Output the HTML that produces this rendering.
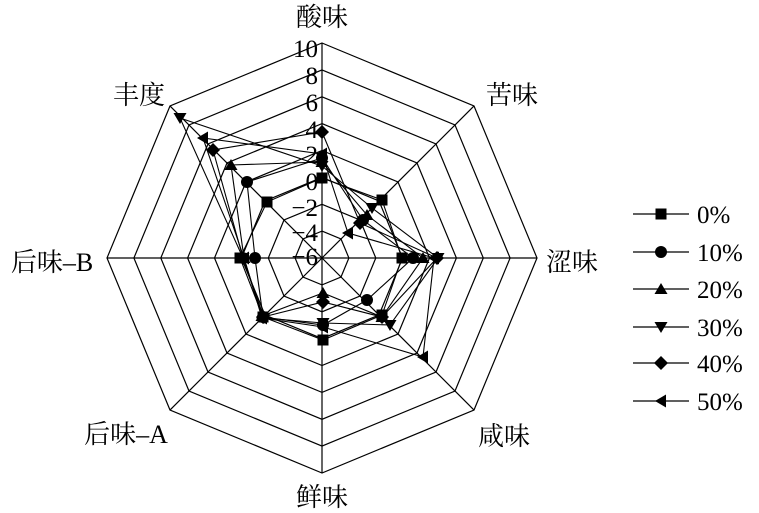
<!DOCTYPE html>
<html><head><meta charset="utf-8"><style>
html,body{margin:0;padding:0;background:#fff;}
svg{display:block;font-family:"Liberation Serif","Noto Serif CJK SC",serif;}
</style></head><body>
<svg id="s" width="759" height="513" viewBox="0 0 759 513" xmlns="http://www.w3.org/2000/svg">
<g id="grid" stroke="#000" stroke-width="1.2" fill="none"></g>
<g id="ticks" font-size="25" text-anchor="end">
<text x="318" y="57">10</text><text x="318" y="84">8</text><text x="318" y="111">6</text><text x="318" y="138">4</text><text x="318" y="163">2</text><text x="318" y="190">0</text><text x="318" y="216">−2</text><text x="318" y="241">−4</text><text x="318" y="265">−6</text>
</g>
<g font-size="26" text-anchor="middle">
<text x="322" y="26">酸味</text>
<text x="512" y="104">苦味</text>
<text x="572" y="271">涩味</text>
<text x="504" y="445">咸味</text>
<text x="322" y="506">鲜味</text>
<text x="126" y="443">后味–A</text>
<text x="52" y="271">后味–B</text>
<text x="139" y="104">丰度</text>
</g>
<g id="data" stroke="#000" stroke-width="1.1" fill="none"></g>
<g id="mk" fill="#000"></g>
<g id="leg" font-size="25"></g>
</svg>
<script>
var cx=322,cy=258,u=26.875,ns="http://www.w3.org/2000/svg";
function el(p,t,a){var e=document.createElementNS(ns,t);for(var k in a)e.setAttribute(k,a[k]);document.getElementById(p).appendChild(e);return e;}
function pt(r,i){var a=i*Math.PI/4;return [cx+r*Math.sin(a),cy-r*Math.cos(a)];}
for(var k=1;k<=8;k++){var s=[];for(var i=0;i<8;i++){var p=pt(k*u,i);s.push(p[0].toFixed(1)+","+p[1].toFixed(1));}el("grid","polygon",{points:s.join(" ")});}
for(var i=0;i<8;i++){var p=pt(8*u,i);el("grid","line",{x1:cx,y1:cy,x2:p[0],y2:p[1]});}
var D=[
[[322,178],[382,200],[402,258],[382,315],[323,340],[263,317],[240,258],[267,202]],
[[322,158],[363,220],[413,258],[367,300],[323,325],[263,317],[255,258],[247,182]],
[[322,162],[367,215],[423,258],[382,317],[323,293],[262,316],[244,258],[231,165]],
[[322,166],[372,208],[438,258],[390,325],[323,323],[264,318],[243,258],[180,118]],
[[322,132],[360,223],[437,258],[382,317],[323,302],[263,317],[243,258],[213,150]],
[[322,154],[348,233],[434,258],[423,357],[323,327],[262,318],[244,258],[203,138]]];
function mark(t,x,y){
 if(t==0)el("mk","rect",{x:x-5.5,y:y-5.5,width:11,height:11});
 else if(t==1)el("mk","circle",{cx:x,cy:y,r:6});
 else if(t==2)el("mk","polygon",{points:(x)+","+(y-6)+" "+(x+6.5)+","+(y+5)+" "+(x-6.5)+","+(y+5)});
 else if(t==3)el("mk","polygon",{points:(x)+","+(y+6)+" "+(x+6.5)+","+(y-5)+" "+(x-6.5)+","+(y-5)});
 else if(t==4)el("mk","polygon",{points:x+","+(y-7)+" "+(x+7)+","+y+" "+x+","+(y+7)+" "+(x-7)+","+y});
 else el("mk","polygon",{points:(x-6)+","+y+" "+(x+5)+","+(y-6.5)+" "+(x+5)+","+(y+6.5)});
}
for(var t=0;t<6;t++){el("data","polygon",{points:D[t].map(function(q){return q.join(",")}).join(" ")});D[t].forEach(function(q){mark(t,q[0],q[1]);});}
var ly=[214,252,289,327,363,401],lab=["0%","10%","20%","30%","40%","50%"];
for(var t=0;t<6;t++){el("leg","line",{x1:633,y1:ly[t],x2:689,y2:ly[t],stroke:"#000","stroke-width":1.2});mark(t,661,ly[t]);var e=el("leg","text",{x:697,y:ly[t]+9});e.textContent=lab[t];}
</script>
</body></html>
